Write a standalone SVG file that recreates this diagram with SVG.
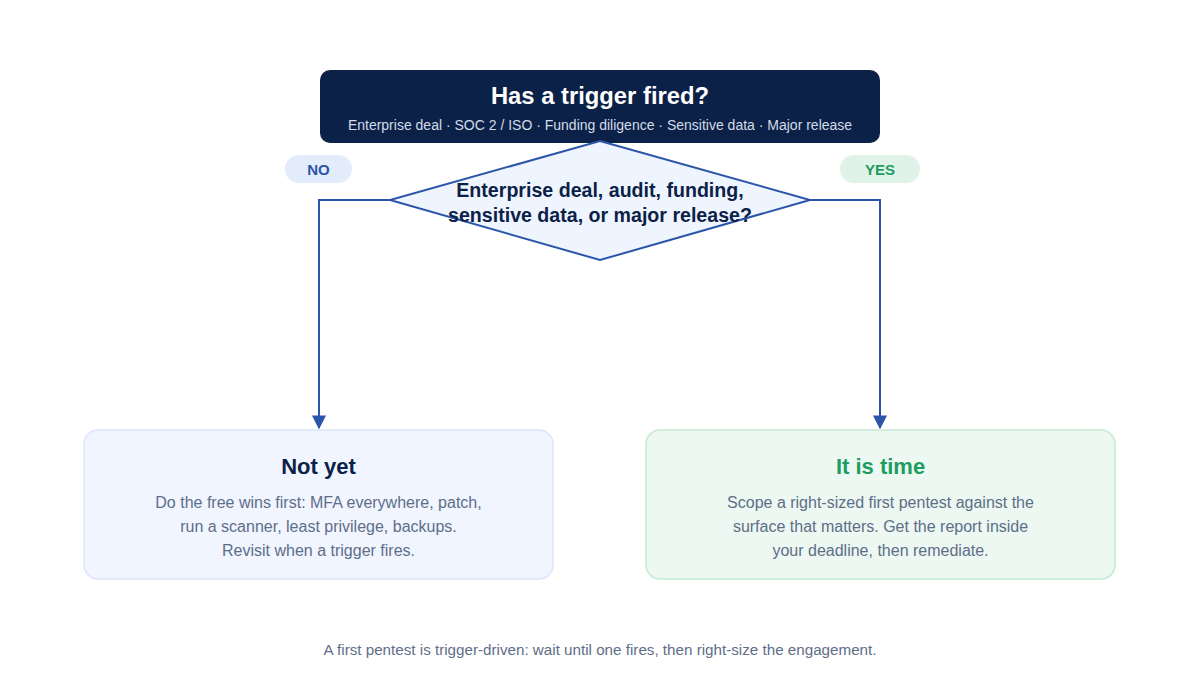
<svg xmlns="http://www.w3.org/2000/svg" width="1200" height="680" viewBox="0 0 1200 680">
<defs>
<style>
text{font-family:"Liberation Sans",Arial,sans-serif;text-anchor:middle}
.t{font-weight:bold}
.body{font-size:16px;fill:#5e6e88}
.conn{fill:none;stroke:#2b55a8;stroke-width:2}
</style>
<marker id="ah" viewBox="0 0 10 10" refX="9" refY="5" markerWidth="14" markerHeight="14" markerUnits="userSpaceOnUse" orient="auto"><path d="M0,0L10,5L0,10z" fill="#2b55a8"/></marker>
</defs>
<rect width="1200" height="680" fill="#ffffff"/>
<g id="connectors">
<path class="conn" d="M390,200H319V428" marker-end="url(#ah)"/>
<path class="conn" d="M810,200H880V428" marker-end="url(#ah)"/>
</g>
<g id="trigger">
<rect x="320" y="70" width="560" height="73" rx="10" fill="#0c2147"/>
<text class="t" x="600" y="104" font-size="23.8" fill="#ffffff">Has a trigger fired?</text>
<text x="600" y="130" font-size="14" fill="#d3dcea">Enterprise deal · SOC 2 / ISO · Funding diligence · Sensitive data · Major release</text>
</g>
<g id="decision">
<polygon points="600,141 810,200 600,260 390,200" fill="#eff5ff" stroke="#2b55a8" stroke-width="2"/>
<text class="t" x="600" y="197" font-size="19.6" fill="#0c2147">Enterprise deal, audit, funding,</text>
<text class="t" x="600" y="222" font-size="19.6" fill="#0c2147">sensitive data, or major release?</text>
</g>
<g id="label-no">
<rect x="285" y="155" width="67" height="28" rx="14" fill="#e3ecfa"/>
<text class="t" x="318.5" y="174.5" font-size="15" fill="#2b55a8">NO</text>
</g>
<g id="label-yes">
<rect x="840" y="155" width="80" height="28" rx="14" fill="#e0f3e8"/>
<text class="t" x="880" y="174.5" font-size="15" fill="#1f9d60">YES</text>
</g>
<g id="not-yet">
<rect x="84" y="430" width="469" height="149" rx="14" fill="#f0f5ff" stroke="#dbe6fb" stroke-width="1.5"/>
<text class="t" x="318.5" y="474" font-size="22" fill="#0c2147">Not yet</text>
<text class="body" x="318.5" y="508">Do the free wins first: MFA everywhere, patch,</text>
<text class="body" x="318.5" y="532">run a scanner, least privilege, backups.</text>
<text class="body" x="318.5" y="556">Revisit when a trigger fires.</text>
</g>
<g id="it-is-time">
<rect x="646" y="430" width="469" height="149" rx="14" fill="#ecf8f1" stroke="#c5e9d5" stroke-width="1.5"/>
<text class="t" x="880.5" y="474" font-size="22" fill="#1f9d60">It is time</text>
<text class="body" x="880.5" y="508">Scope a right-sized first pentest against the</text>
<text class="body" x="880.5" y="532">surface that matters. Get the report inside</text>
<text class="body" x="880.5" y="556">your deadline, then remediate.</text>
</g>
<text x="600" y="655" font-size="15.2" fill="#5e6e88">A first pentest is trigger-driven: wait until one fires, then right-size the engagement.</text>
</svg>
